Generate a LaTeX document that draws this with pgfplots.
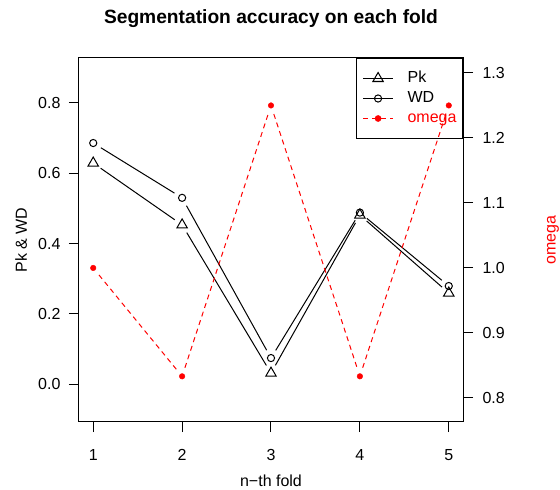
\documentclass[border=0pt]{standalone}
\usepackage{pgfplots}
\pgfplotsset{compat=1.18}
\usepackage{fontspec}
\setmainfont{Liberation Sans}
\definecolor{Rred}{RGB}{255,0,0}
\newcommand{\seg}[5]{\addplot[#1, forget plot, shorten <=9pt, shorten >=9pt] coordinates {(#2,#3) (#4,#5)};}
\begin{document}
\begin{tikzpicture}
\useasboundingbox (-79pt,-68pt) rectangle (481pt,422pt);
\pgfplotsset{
  common/.style={scale only axis, width=384pt, height=364pt, xmin=0.84, xmax=5.16,
    tick align=outside, major tick length=10pt,
    every tick/.style={black, line width=1pt},
    /pgf/number format/assume math mode=true,
    tick label style={font=\fontsize{16}{19}\selectfont},
    label style={font=\fontsize{16}{19}\selectfont},
    axis line style={line width=1pt},
    legend image code/.code={\draw[mark repeat=2, mark phase=2] plot coordinates {(0pt,0pt) (15pt,0pt) (30pt,0pt)};},
  },
  mPk/.style={black, line width=1pt, mark=triangle, mark size=6pt},
  mWD/.style={black, line width=1pt, mark=o, mark size=3.6pt},
  mOm/.style={Rred, line width=1pt, dash pattern=on 5pt off 4pt, mark=*, mark size=2.8pt, mark options={solid}},
}
\begin{axis}[common, ymin=-0.108, ymax=0.928,
  xtick={1,2,3,4,5}, ytick={0,0.2,0.4,0.6,0.8},
  xtick pos=left, ytick pos=left,
  xticklabel style={yshift=-14pt},
  yticklabel style={xshift=-5pt, /pgf/number format/.cd, fixed, fixed zerofill, precision=1},
  xlabel={n−th fold}, ylabel={Pk \& WD},
  xlabel style={at={(axis description cs:0.5,0)}, anchor=base, yshift=-64pt},
  ylabel style={at={(axis description cs:0,0.5)}, anchor=base, yshift=52pt},
  title={Segmentation accuracy on each fold},
  title style={font=\bfseries\fontsize{19.2}{23}\selectfont, at={(axis description cs:0.5,1)}, anchor=base, yshift=28pt},
]
% Pk segments
\seg{black, line width=1pt}{1}{0.629}{2}{0.453}
\seg{black, line width=1pt}{2}{0.453}{3}{0.031}
\seg{black, line width=1pt}{3}{0.031}{4}{0.481}
\seg{black, line width=1pt}{4}{0.481}{5}{0.259}
% WD segments
\seg{black, line width=1pt}{1}{0.686}{2}{0.530}
\seg{black, line width=1pt}{2}{0.530}{3}{0.074}
\seg{black, line width=1pt}{3}{0.074}{4}{0.488}
\seg{black, line width=1pt}{4}{0.488}{5}{0.279}
\addplot[mPk, only marks, forget plot] coordinates {(1,0.629) (2,0.453) (3,0.031) (4,0.481) (5,0.259)};
\addplot[mWD, only marks, forget plot] coordinates {(1,0.686) (2,0.530) (3,0.074) (4,0.488) (5,0.279)};
\end{axis}
\begin{axis}[common, ymin=0.763, ymax=1.323,
  axis x line=none, axis y line*=right,
  xtick={1,2,3,4,5}, ytick={0.8,0.9,1.0,1.1,1.2,1.3},
  yticklabel style={xshift=6pt, /pgf/number format/.cd, fixed, fixed zerofill, precision=1},
  ylabel={omega},
  ylabel style={at={(axis description cs:1,0.5)}, anchor=base, yshift=-92.5pt, text=Rred},
  legend style={at={(axis description cs:1,1)}, anchor=north east, draw=black, line width=1pt, fill=none,
    font=\fontsize{16}{19}\selectfont, inner xsep=6pt, inner ysep=12.5pt, row sep=5pt, column sep=14pt,
    nodes={inner sep=0pt, text height=11.5pt, text depth=3.5pt}},
  legend cell align=left,
]
\addlegendimage{mPk}
\addlegendentry{Pk}
\addlegendimage{mWD}
\addlegendentry{WD}
\addlegendimage{mOm}
\addlegendentry{\textcolor{Rred}{omega}}
\seg{Rred, line width=1pt, dash pattern=on 5pt off 4pt}{1}{1.0}{2}{0.8333}
\seg{Rred, line width=1pt, dash pattern=on 5pt off 4pt}{2}{0.8333}{3}{1.25}
\seg{Rred, line width=1pt, dash pattern=on 5pt off 4pt}{3}{1.25}{4}{0.8333}
\seg{Rred, line width=1pt, dash pattern=on 5pt off 4pt}{4}{0.8333}{5}{1.25}
\addplot[Rred, only marks, mark=*, mark size=2.8pt, forget plot] coordinates {(1,1.0) (2,0.8333) (3,1.25) (4,0.8333) (5,1.25)};
\end{axis}
\end{tikzpicture}
\end{document}
